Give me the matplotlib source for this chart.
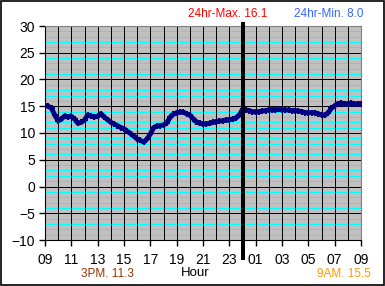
import matplotlib
matplotlib.use("Agg")
import matplotlib.pyplot as plt
from matplotlib.patches import Rectangle

plt.rcParams['font.family'] = ['Liberation Sans', 'DejaVu Sans']

# hours since 09:00, one reading every 15 minutes
hours = [i * 0.25 for i in range(97)]
temps = [
    15.2, 15.0, 14.6, 13.3, 12.3, 12.6, 13.2, 13.0,
    13.1, 12.6, 11.8, 12.0, 12.4, 13.4, 13.2, 13.0,
    13.1, 13.6, 13.0, 12.5, 12.0, 11.7, 11.4, 11.0,
    10.8, 10.3, 9.9, 9.4, 8.9, 8.6, 8.3, 8.9,
    9.8, 11.0, 11.3, 11.4, 11.5, 11.9, 12.9, 13.5,
    13.8, 13.9, 13.9, 13.6, 13.3, 12.7, 12.1, 11.8,
    11.7, 11.7, 11.8, 12.0, 12.1, 12.2, 12.3, 12.4,
    12.5, 12.6, 12.8, 13.3, 14.4, 14.3, 14.2, 14.0,
    13.9, 14.0, 14.1, 14.2, 14.3, 14.35, 14.3, 14.4,
    14.35, 14.3, 14.3, 14.2, 14.2, 14.1, 14.0, 13.8,
    13.8, 13.8, 13.8, 13.6, 13.4, 13.3, 13.8, 14.6,
    15.1, 15.5, 15.6, 15.5, 15.4, 15.6, 15.4, 15.5,
    15.5,
]
tick_labels = ['09', '11', '13', '15', '17', '19', '21', '23',
               '01', '03', '05', '07', '09']
max_text = '24hr-Max. 16.1'
min_text = '24hr-Min. 8.0'
pm_text = '3PM. 11.3'
am_text = '9AM. 15.5'

fig = plt.figure(figsize=(3.85, 2.86), dpi=100)
fig.patch.set_facecolor('white')
fig.patches.append(Rectangle((0.002, 0.003), 0.995, 0.993, transform=fig.transFigure,
                             fill=False, edgecolor='black', linewidth=1.2))

ax = fig.add_axes([45 / 385, 46 / 286, 316 / 385, 214 / 286])
ax.set_facecolor('#C0C0C0')
ax.set_xlim(0, 24)
ax.set_ylim(-10, 30)

# grid: cyan every degree, black every 5, black every hour (1px, crisp)
px = 0.72
for v in range(-10, 31):
    if v % 5:
        ax.axhline(v, color='#00FFFF', lw=px, zorder=1, antialiased=False)
    else:
        ax.axhline(v, color='black', lw=px, zorder=2, antialiased=False)
for h in range(1, 24):
    ax.axvline(h, color='black', lw=px, zorder=2, antialiased=False)

# midnight marker
ax.plot([15, 15], [-13.3, 30.4], color='black', lw=1.6, clip_on=False, zorder=5,
        antialiased=False)

ax.plot(hours, temps, color='#000080', lw=3.5, marker='+', ms=5, mew=1.5, zorder=4)

ax.set_yticks(range(-10, 31, 5))
ax.set_xticks(range(0, 25, 2))
ax.set_xticklabels(tick_labels)
ax.tick_params(axis='both', direction='out', length=4, width=1, labelsize=10, color='black')
ax.tick_params(axis='x', pad=5)
ax.tick_params(axis='y', pad=3)

for side in ['left', 'bottom']:
    ax.spines[side].set_color('black')
for side in ['top', 'right']:
    ax.spines[side].set_color('#808080')

fig.text(228 / 385, 1 - 14 / 286, max_text, color='#FF0000', fontsize=8.5, ha='center', va='center')
fig.text(329 / 385, 1 - 14 / 286, min_text, color='#3366FF', fontsize=8.5, ha='center', va='center')
fig.text(107 / 385, 1 - 274 / 286, pm_text, color='#993300', fontsize=8.5, ha='center', va='center')
fig.text(195 / 385, 1 - 273 / 286, 'Hour', color='black', fontsize=9.5, ha='center', va='center')
fig.text(344 / 385, 1 - 274 / 286, am_text, color='#FF9900', fontsize=8.5, ha='center', va='center')

fig.savefig('out.png', dpi=100)
